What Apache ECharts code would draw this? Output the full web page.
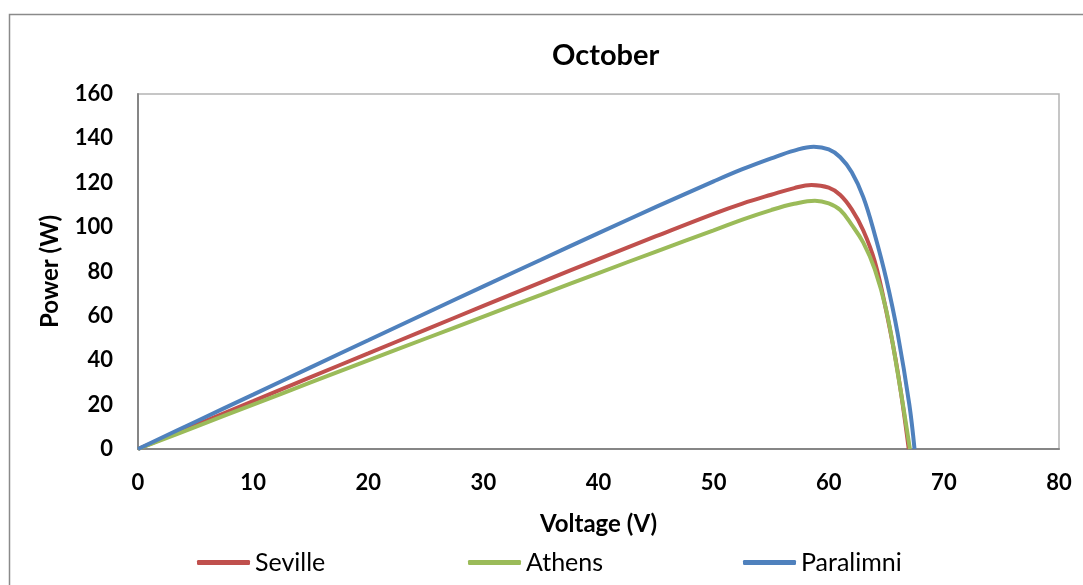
<!DOCTYPE html>
<html>
<head>
<meta charset="utf-8">
<title>October</title>
<script src="https://cdn.jsdelivr.net/npm/echarts@6/dist/echarts.min.js"></script>
<style>
  html, body { margin: 0; padding: 0; background: #ffffff; }
  #chart { width: 1083px; height: 585px; }
</style>
</head>
<body>
<div id="chart"></div>
<script>
// P-V curves for October: [voltage (V), power (W)]
const seriesNames = ['Seville', 'Athens', 'Paralimni'];

const seville = [
  [0, 0], [5, 10.8], [10, 21.6], [15, 32.4], [20, 43.1], [25, 53.8], [30, 64.5],
  [35, 75.1], [40, 85.6], [45, 95.9], [50, 106.0], [52.5, 110.6], [55, 114.6],
  [57, 117.6], [58.5, 119.0], [60, 117.8], [61, 114.5], [62, 108.0], [63, 98.5],
  [64, 84.5], [65, 62.0], [66, 34.5], [66.95, 0]
];

const athens = [
  [0, 0], [5, 10.0], [10, 20.0], [15, 30.0], [20, 39.9], [25, 49.8], [30, 59.7],
  [35, 69.5], [40, 79.3], [45, 89.0], [50, 98.5], [52.5, 103.4], [55, 107.7],
  [57, 110.5], [58.8, 111.9], [60, 110.7], [61, 107.7], [62, 101.0], [63, 93.0],
  [64, 81.0], [65, 62.5], [66, 34.0], [67.05, 0]
];

const paralimni = [
  [0, 0], [5, 12.3], [10, 24.5], [15, 36.8], [20, 49.0], [25, 61.2], [30, 73.3],
  [35, 85.3], [40, 97.3], [45, 109.1], [50, 120.6], [52.5, 126.1], [55, 131.0],
  [57, 134.5], [58.7, 136.2], [60, 135.0], [61, 131.5], [62, 124.7], [63, 113.5],
  [64, 96.6], [65, 76.5], [66, 51.6], [67, 20.0], [67.45, 0]
];

const xTicks = { min: 0, max: 80, interval: 10 };
const yTicks = { min: 0, max: 160, interval: 20 };

const colors = ['#C0504D', '#9BBB59', '#4F81BD'];
const fontFamily = 'Lato, "Open Sans", sans-serif';

const chart = echarts.init(document.getElementById('chart'), null, { renderer: 'canvas' });

const legendLefts = [197, 468, 743];

chart.setOption({
  animation: false,
  backgroundColor: '#ffffff',
  color: colors,
  title: {
    text: 'October',
    left: 552,
    top: 41,
    padding: 0,
    textStyle: { fontFamily, fontWeight: 'bold', fontSize: 29, color: '#000' }
  },
  graphic: [{
    type: 'rect',
    silent: true,
    shape: { x: 9.5, y: 14.5, width: 1100, height: 600 },
    style: { fill: 'none', stroke: '#8a8a8a', lineWidth: 1.5 }
  }],
  legend: seriesNames.map((name, i) => ({
    data: [name],
    left: legendLefts[i],
    top: 550,
    padding: 0,
    icon: 'roundRect',
    itemWidth: 53,
    itemHeight: 5,
    textStyle: { fontFamily, fontSize: 25, color: '#000' }
  })),
  grid: {
    left: 138, top: 94, width: 921, height: 355,
    show: true, borderColor: '#b4b4b4', borderWidth: 1.5
  },
  xAxis: {
    type: 'value',
    min: xTicks.min, max: xTicks.max, interval: xTicks.interval,
    name: 'Voltage (V)',
    nameLocation: 'middle',
    nameGap: 63,
    nameTextStyle: { fontFamily, fontWeight: 'bold', fontSize: 24, color: '#000' },
    axisLine: { lineStyle: { color: '#868686', width: 2 } },
    axisTick: { show: false },
    splitLine: { show: false },
    axisLabel: { margin: 23, fontFamily, fontWeight: 'bold', fontSize: 22, color: '#000' }
  },
  yAxis: {
    type: 'value',
    min: yTicks.min, max: yTicks.max, interval: yTicks.interval,
    name: 'Power (W)',
    nameLocation: 'middle',
    nameGap: 76,
    nameTextStyle: { fontFamily, fontWeight: 'bold', fontSize: 24, color: '#000' },
    axisLine: { show: true, lineStyle: { color: '#868686', width: 2 } },
    axisTick: { show: false },
    splitLine: { show: false },
    axisLabel: { margin: 25, fontFamily, fontWeight: 'bold', fontSize: 22, color: '#000' }
  },
  series: [seville, athens, paralimni].map((data, i) => ({
    name: seriesNames[i],
    type: 'line',
    data,
    smooth: 0.4,
    showSymbol: false,
    symbol: 'none',
    lineStyle: { width: 4, color: colors[i] },
    itemStyle: { color: colors[i] }
  }))
});
</script>
</body>
</html>
